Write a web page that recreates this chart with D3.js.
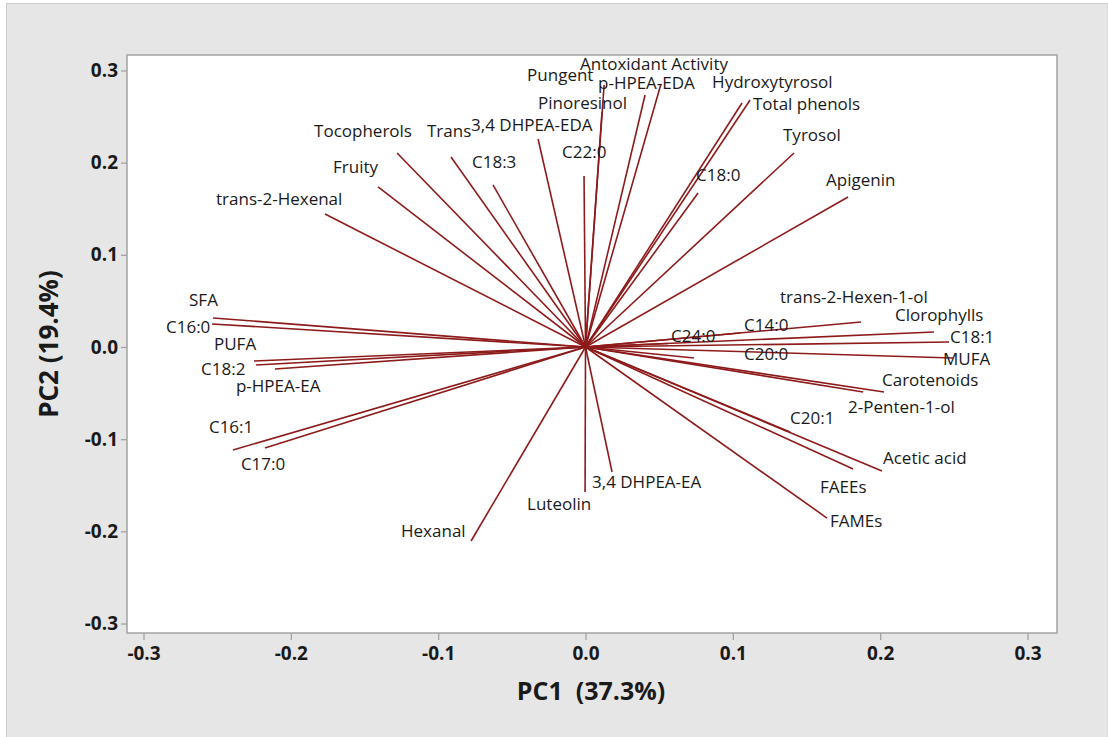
<!DOCTYPE html>
<html>
<head>
<meta charset="utf-8">
<script src="https://cdn.jsdelivr.net/npm/d3@7"></script>
<style>
  html, body { margin: 0; padding: 0; background: #ffffff; }
  svg { display: block; }
</style>
</head>
<body>
<svg id="chart" width="1108" height="737"></svg>
<script>
// Loading vectors: variable names with their PC1 / PC2 loadings
const variables = [
  "Antoxidant Activity", "Pungent", "p-HPEA-EDA", "Pinoresinol", "Hydroxytyrosol",
  "Total phenols", "Tyrosol", "Apigenin", "C18:0", "C22:0",
  "3,4 DHPEA-EDA", "Trans", "C18:3", "Tocopherols", "Fruity",
  "trans-2-Hexenal", "SFA", "C16:0", "PUFA", "C18:2",
  "p-HPEA-EA", "C16:1", "C17:0", "Hexanal", "Luteolin",
  "3,4 DHPEA-EA", "trans-2-Hexen-1-ol", "Clorophylls", "C18:1", "C14:0",
  "C24:0", "C20:0", "MUFA", "Carotenoids", "2-Penten-1-ol",
  "C20:1", "Acetic acid", "FAEEs", "FAMEs"
];

const pc1 = [
  0.0512, 0.0126, 0.0404, 0.0112, 0.1117,
  0.1062, 0.1415, 0.1782, 0.0764, -0.0010,
  -0.0322, -0.0913, -0.0628, -0.1279, -0.1408,
  -0.1768, -0.2528, -0.2535, -0.2250, -0.2236,
  -0.2108, -0.2393, -0.2176, -0.0777, -0.0003,
  0.0180, 0.1870, 0.2365, 0.2467, 0.1049,
  0.0560, 0.0736, 0.2494, 0.2026, 0.1884,
  0.1388, 0.2012, 0.1816, 0.1639
];

const pc2 = [
  0.2853, 0.2843, 0.2734, 0.2550, 0.2680,
  0.2647, 0.2105, 0.1627, 0.1671, 0.1855,
  0.2257, 0.2061, 0.1758, 0.2105, 0.1736,
  0.1443, 0.0315, 0.0250, -0.0152, -0.0195,
  -0.0239, -0.1117, -0.1096, -0.2105, -0.1573,
  -0.1356, 0.0271, 0.0163, 0.0054, 0.0152,
  0.0038, -0.0119, -0.0119, -0.0488, -0.0488,
  -0.0922, -0.1345, -0.1324, -0.1856
];

const xTicks = [-0.3, -0.2, -0.1, 0.0, 0.1, 0.2, 0.3];
const yTicks = [-0.3, -0.2, -0.1, 0.0, 0.1, 0.2, 0.3];
const xTitle = "PC1  (37.3%)";
const yTitle = "PC2 (19.4%)";

// Label placement (pixels, relative to each vector tip: left edge, vertical centre)
const labelOffsets = [
  [-81, -20], [-77, -10], [-47, -12], [-64, -9], [-38, -18],
  [11, 1], [-11, -18], [-22, -17], [-2, -18], [-22, -24],
  [-67, -14], [-24, -26], [-21, -23], [-83, -22], [-45, -20],
  [-109, -15], [-24, -18], [-46, 3], [-40, -17], [-55, 4],
  [-39, 17], [-24, -23], [-24, 16], [-70, -10], [-58, 12],
  [-20, 10], [-81, -25], [-39, -17], [1, -5], [4, -8],
  [3, -7], [50, -4], [-10, 1], [-2, -12], [-15, 15],
  [0, -14], [1, -13], [-33, 18], [3, 3]
];

const W = 1108, H = 737;
const plot = { left: 127, right: 1057, top: 55, bottom: 633 };
const FONT = "'Open Sans', 'Noto Sans', sans-serif";

const svg = d3.select("#chart");

// Outer panel
svg.append("rect")
  .attr("x", 6.5).attr("y", 3.5)
  .attr("width", W - 6.5).attr("height", H - 3)
  .attr("fill", "#e6e6e6")
  .attr("stroke", "#cdcdcd").attr("stroke-width", 1);

const x = d3.scaleLinear().domain([-0.3112, 0.3200]).range([plot.left, plot.right]);
const y = d3.scaleLinear().domain([-0.3103, 0.3168]).range([plot.bottom, plot.top]);

// Plot area
svg.append("rect")
  .attr("x", plot.left).attr("y", plot.top)
  .attr("width", plot.right - plot.left).attr("height", plot.bottom - plot.top)
  .attr("fill", "#ffffff")
  .attr("stroke", "#a3a3a3").attr("stroke-width", 1.5);

const fmt = d => d.toFixed(1);

const xAxis = svg.append("g")
  .attr("transform", `translate(0,${plot.bottom})`)
  .call(d3.axisBottom(x).tickValues(xTicks).tickFormat(fmt).tickSize(7).tickPadding(7));
const yAxis = svg.append("g")
  .attr("transform", `translate(${plot.left},0)`)
  .call(d3.axisLeft(y).tickValues(yTicks).tickFormat(fmt).tickSize(6).tickPadding(3));

[xAxis, yAxis].forEach(g => {
  g.select(".domain").remove();
  g.selectAll(".tick line").attr("stroke", "#a3a3a3").attr("stroke-width", 1.3);
  g.selectAll(".tick text")
    .attr("fill", "#1a1a1a")
    .style("font-family", FONT)
    .style("font-weight", "700")
    .style("font-size", "19px");
});

// Axis titles
svg.append("text")
  .attr("x", 591).attr("y", 700)
  .attr("text-anchor", "middle")
  .style("font-family", FONT)
  .style("font-weight", "700").style("font-size", "25px")
  .style("white-space", "pre")
  .attr("fill", "#1a1a1a")
  .text(xTitle);

svg.append("text")
  .attr("transform", `translate(58,${(plot.top + plot.bottom) / 2 + 0}) rotate(-90)`)
  .attr("text-anchor", "middle")
  .style("font-family", FONT)
  .style("font-weight", "700").style("font-size", "26px")
  .attr("fill", "#1a1a1a")
  .text(yTitle);

// Vectors from the origin
const data = variables.map((name, i) => ({
  name, pc1: pc1[i], pc2: pc2[i], off: labelOffsets[i]
}));

const g = svg.append("g");
g.selectAll("line.vec")
  .data(data)
  .join("line")
  .attr("class", "vec")
  .attr("x1", x(0)).attr("y1", y(0))
  .attr("x2", d => x(d.pc1)).attr("y2", d => y(d.pc2))
  .attr("stroke", "#8e1b1b")
  .attr("stroke-width", 1.6);

g.selectAll("text.lab")
  .data(data)
  .join("text")
  .attr("class", "lab")
  .attr("x", d => x(d.pc1) + d.off[0])
  .attr("y", d => y(d.pc2) + d.off[1])
  .attr("dy", "0.35em")
  .style("font-family", FONT)
  .style("font-size", "17px")
  .attr("fill", "#1a1a1a")
  .text(d => d.name);
</script>
</body>
</html>
